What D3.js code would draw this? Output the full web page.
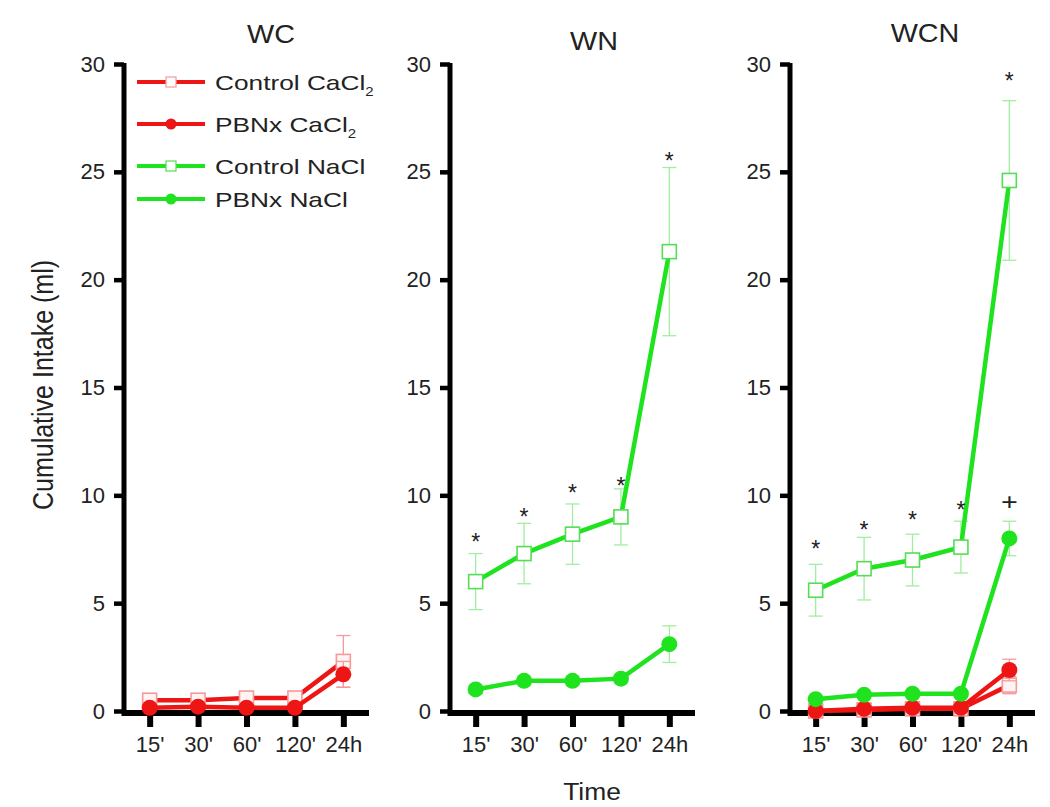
<!DOCTYPE html>
<html>
<head>
<meta charset="utf-8">
<script src="https://cdn.jsdelivr.net/npm/d3@7"></script>
<style>
  html, body { margin: 0; padding: 0; background: #fff; }
  svg { display: block; font-family: "Liberation Sans", Arial, sans-serif; }
</style>
</head>
<body>
<svg id="chart" width="1050" height="807"></svg>
<script>
// ---------------- data ----------------
const categories = ["15'", "30'", "60'", "120'", "24h"];
const panelTitles = ["WC", "WN", "WCN"];
const yTicks = [0, 5, 10, 15, 20, 25, 30];
const legendLabels = ["Control CaCl", "PBNx CaCl", "Control NaCl", "PBNx NaCl"];

// WC panel
const wcControlCaCl2    = [0.5, 0.5, 0.6, 0.6, 2.3];
const wcControlCaCl2Err = [0.25, 0.25, 0.25, 0.25, 1.2];
const wcPbnxCaCl2       = [0.15, 0.2, 0.15, 0.15, 1.7];
const wcPbnxCaCl2Err    = [0.1, 0.1, 0.1, 0.1, 0.6];

// WN panel
const wnControlNaCl    = [6.0, 7.3, 8.2, 9.0, 21.3];
const wnControlNaClErr = [1.3, 1.4, 1.4, 1.3, 3.9];
const wnPbnxNaCl       = [1.0, 1.4, 1.4, 1.5, 3.1];
const wnPbnxNaClErr    = [0.2, 0.2, 0.2, 0.2, 0.85];
const wnStars          = [8.0, 9.2, 10.3, 10.6, 25.7];

// WCN panel
const wcnControlNaCl    = [5.6, 6.6, 7.0, 7.6, 24.6];
const wcnControlNaClErr = [1.2, 1.45, 1.2, 1.2, 3.7];
const wcnPbnxNaCl       = [0.55, 0.75, 0.8, 0.8, 8.0];
const wcnPbnxNaClErr    = [0.1, 0.1, 0.1, 0.1, 0.8];
const wcnControlCaCl2    = [0.0, 0.05, 0.1, 0.1, 1.2];
const wcnControlCaCl2Err = [0.05, 0.05, 0.05, 0.05, 0.4];
const wcnPbnxCaCl2       = [0.0, 0.1, 0.15, 0.15, 1.9];
const wcnPbnxCaCl2Err    = [0.05, 0.05, 0.05, 0.05, 0.5];
const wcnStars           = [7.7, 8.6, 9.05, 9.5, 29.4];
const wcnPlus            = [null, null, null, null, 9.7];

// ---------------- styles ----------------
const RED = "#ee1515", RED_LIGHT = "#f59a9a";
const GREEN = "#1ee31e", GREEN_LIGHT = "#a0eea0", GREEN_SQ = "#55dd55";

const styles = {
  ctrlCa: {color: RED, marker: "square", mStroke: RED_LIGHT, mFill: "#fff3f3", err: RED_LIGHT},
  pbnCa:  {color: RED, marker: "circle", mFill: RED, err: RED_LIGHT},
  ctrlNa: {color: GREEN, marker: "square", mStroke: GREEN_SQ, mFill: "#ffffff", err: GREEN_LIGHT},
  pbnNa:  {color: GREEN, marker: "circle", mFill: GREEN, err: GREEN_LIGHT}
};

const panels = [
  {title: panelTitles[0], axisX: 124, titleX: 271, titleY: 43, legend: true,
   series: [
     {key: "ctrlCa", v: wcControlCaCl2, e: wcControlCaCl2Err},
     {key: "pbnCa",  v: wcPbnxCaCl2,    e: wcPbnxCaCl2Err}
   ], stars: null, plus: null},
  {title: panelTitles[1], axisX: 450, titleX: 594, titleY: 50, legend: false,
   series: [
     {key: "ctrlNa", v: wnControlNaCl, e: wnControlNaClErr},
     {key: "pbnNa",  v: wnPbnxNaCl,    e: wnPbnxNaClErr}
   ], stars: wnStars, plus: null},
  {title: panelTitles[2], axisX: 790, titleX: 925, titleY: 42, legend: false,
   series: [
     {key: "ctrlCa", v: wcnControlCaCl2, e: wcnControlCaCl2Err},
     {key: "pbnCa",  v: wcnPbnxCaCl2,    e: wcnPbnxCaCl2Err},
     {key: "ctrlNa", v: wcnControlNaCl,  e: wcnControlNaClErr},
     {key: "pbnNa",  v: wcnPbnxNaCl,     e: wcnPbnxNaClErr}
   ], stars: wcnStars, plus: wcnPlus}
];

const svg = d3.select("#chart");
const y = d3.scaleLinear().domain([0, 30]).range([711, 64]);
const axisY = 713;
const SQ = 14, R = 8;

panels.forEach(p => {
  const x = d3.scalePoint().domain(categories).range([p.axisX, p.axisX + 245]).padding(0.53);
  const g = svg.append("g");

  // title
  g.append("text").text(p.title)
    .attr("transform", `translate(${p.titleX},${p.titleY}) scale(1.15,1)`)
    .attr("text-anchor", "middle").attr("font-size", 25).attr("fill", "#222");

  // y axis
  const ya = g.append("g").attr("transform", `translate(${p.axisX},0)`)
    .call(d3.axisLeft(y).tickValues(yTicks).tickSize(10).tickSizeOuter(0).tickPadding(9));
  ya.select(".domain").attr("stroke", "#000").attr("stroke-width", 5)
    .attr("d", `M0,${y(30) - 1}V${axisY}`);
  ya.selectAll(".tick line").attr("stroke", "#000").attr("stroke-width", 4.5);
  ya.selectAll(".tick text").attr("font-size", 22).attr("fill", "#222")
    .attr("font-family", "Liberation Sans, Arial, sans-serif");

  // x axis
  const xa = g.append("g").attr("transform", `translate(0,${axisY})`)
    .call(d3.axisBottom(x).tickSize(14).tickSizeOuter(0).tickPadding(6));
  xa.select(".domain").attr("stroke", "#000").attr("stroke-width", 6)
    .attr("d", `M${p.axisX - 2.5},0H${p.axisX + 245}`);
  xa.selectAll(".tick line").attr("stroke", "#000").attr("stroke-width", 6);
  xa.selectAll(".tick text").attr("font-size", 22).attr("fill", "#222")
    .attr("font-family", "Liberation Sans, Arial, sans-serif")
    .attr("y", 39).attr("dy", 0);

  // series
  p.series.forEach(s => {
    const st = styles[s.key];
    const pts = categories.map((c, i) => ({c, v: s.v[i], e: s.e[i]}));
    // error bars
    const eg = g.append("g").attr("stroke", st.err).attr("stroke-width", 1.3).attr("fill", "none");
    pts.forEach(d => {
      const cx = x(d.c), y1 = y(d.v + d.e), y2 = y(Math.max(0, d.v - d.e));
      eg.append("line").attr("x1", cx).attr("x2", cx).attr("y1", y1).attr("y2", y2);
      eg.append("line").attr("x1", cx - 7).attr("x2", cx + 7).attr("y1", y1).attr("y2", y1);
      eg.append("line").attr("x1", cx - 7).attr("x2", cx + 7).attr("y1", y2).attr("y2", y2);
    });
    // line
    g.append("path").datum(pts)
      .attr("fill", "none").attr("stroke", st.color).attr("stroke-width", 4.5)
      .attr("d", d3.line().x(d => x(d.c)).y(d => y(d.v)));
    // markers
    if (st.marker === "square") {
      g.selectAll(null).data(pts).enter().append("rect")
        .attr("x", d => x(d.c) - SQ / 2).attr("y", d => y(d.v) - SQ / 2)
        .attr("width", SQ).attr("height", SQ)
        .attr("fill", st.mFill).attr("stroke", st.mStroke).attr("stroke-width", 1.6);
    } else {
      g.selectAll(null).data(pts).enter().append("circle")
        .attr("cx", d => x(d.c)).attr("cy", d => y(d.v)).attr("r", R)
        .attr("fill", st.mFill);
    }
  });

  // significance marks
  if (p.stars) {
    g.selectAll(null).data(categories.map((c, i) => ({c, v: p.stars[i]})).filter(d => d.v != null))
      .enter().append("text").text("*")
      .attr("x", d => x(d.c)).attr("y", d => y(d.v) + 12)
      .attr("text-anchor", "middle").attr("font-size", 23).attr("fill", "#222");
  }
  if (p.plus) {
    g.selectAll(null).data(categories.map((c, i) => ({c, v: p.plus[i]})).filter(d => d.v != null))
      .enter().append("text").text("+")
      .attr("transform", d => `translate(${x(d.c)},${y(d.v) + 8}) scale(1.2,1)`)
      .attr("text-anchor", "middle").attr("font-size", 24).attr("fill", "#222");
  }

  // legend
  if (p.legend) {
    const keys = ["ctrlCa", "pbnCa", "ctrlNa", "pbnNa"];
    const rowY = [82, 124, 166, 199];
    const lg = g.append("g");
    keys.forEach((k, i) => {
      const st = styles[k];
      const ly = rowY[i];
      lg.append("line").attr("x1", 137).attr("x2", 205).attr("y1", ly).attr("y2", ly)
        .attr("stroke", st.color).attr("stroke-width", 4);
      if (st.marker === "square") {
        lg.append("rect").attr("x", 171 - 5).attr("y", ly - 5).attr("width", 10).attr("height", 10)
          .attr("fill", "#fff").attr("stroke", st.mStroke).attr("stroke-width", 1.2);
      } else {
        lg.append("circle").attr("cx", 171).attr("cy", ly).attr("r", 5.5).attr("fill", st.mFill);
      }
      const t = lg.append("text")
        .attr("transform", `translate(215,${ly + 7.5}) scale(1.25,1)`)
        .attr("font-size", 21).attr("fill", "#222");
      t.append("tspan").text(legendLabels[i]);
      if (i < 2) {
        t.append("tspan").text("2").attr("font-size", 12).attr("dy", 6);
      }
    });
  }
});

// axis titles
svg.append("text").text("Cumulative Intake (ml)")
  .attr("transform", "translate(53,385) scale(1.2,1) rotate(-90)")
  .attr("text-anchor", "middle").attr("font-size", 25).attr("fill", "#222");
svg.append("text").text("Time")
  .attr("transform", "translate(592,800) scale(1.1,1)")
  .attr("text-anchor", "middle").attr("font-size", 24).attr("fill", "#222");
</script>
</body>
</html>
